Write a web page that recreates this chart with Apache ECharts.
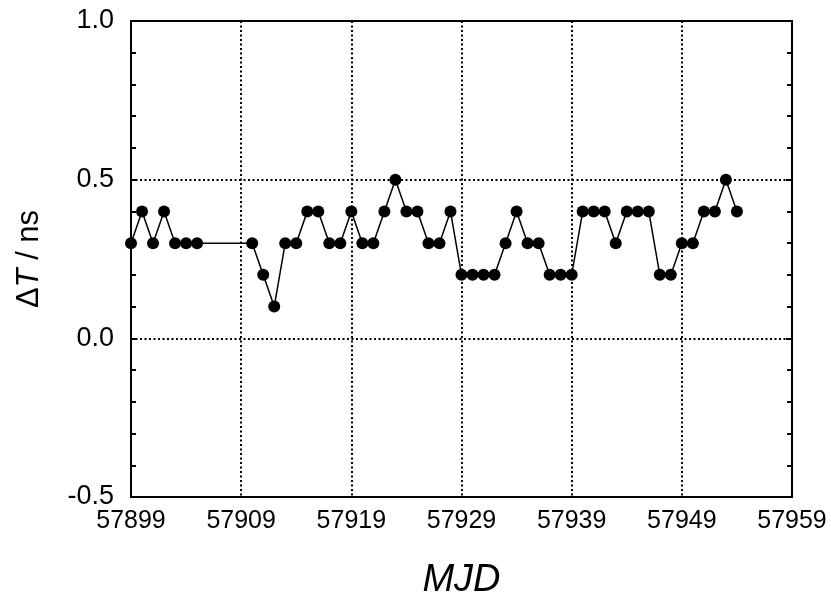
<!DOCTYPE html>
<html>
<head>
<meta charset="utf-8">
<script src="https://cdn.jsdelivr.net/npm/echarts@6/dist/echarts.min.js"></script>
<style>
  html, body { margin: 0; padding: 0; background: #fff; }
  #main { width: 831px; height: 597px; }
</style>
</head>
<body>
<div id="main"></div>
<script>
// MJD days and time offset (ns)
var mjd = [57899, 57900, 57901, 57902, 57903, 57904, 57905,
  57910, 57911, 57912, 57913, 57914, 57915, 57916, 57917, 57918, 57919,
  57920, 57921, 57922, 57923, 57924, 57925, 57926, 57927, 57928, 57929,
  57930, 57931, 57932, 57933, 57934, 57935, 57936, 57937, 57938, 57939,
  57940, 57941, 57942, 57943, 57944, 57945, 57946, 57947, 57948, 57949,
  57950, 57951, 57952, 57953, 57954];
var dt = [0.3, 0.4, 0.3, 0.4, 0.3, 0.3, 0.3,
  0.3, 0.2, 0.1, 0.3, 0.3, 0.4, 0.4, 0.3, 0.3, 0.4,
  0.3, 0.3, 0.4, 0.5, 0.4, 0.4, 0.3, 0.3, 0.4, 0.2,
  0.2, 0.2, 0.2, 0.3, 0.4, 0.3, 0.3, 0.2, 0.2, 0.2,
  0.4, 0.4, 0.4, 0.3, 0.4, 0.4, 0.4, 0.2, 0.2, 0.3,
  0.3, 0.4, 0.4, 0.5, 0.4];
var xTicks = [57899, 57909, 57919, 57929, 57939, 57949, 57959];
var yTicks = [-0.5, 0.0, 0.5, 1.0];

var points = mjd.map(function (d, i) { return [d, dt[i]]; });

var chart = echarts.init(document.getElementById('main'));
var font = 'Liberation Sans, Arial, sans-serif';
var dotted = { color: '#000', width: 2, type: [2, 2.5] };

var option = {
  animation: false,
  backgroundColor: '#fff',
  grid: {
    left: 131, right: 39, top: 21, bottom: 100,
    outerBoundsMode: 'none',
    containLabel: false,
    show: true, borderColor: '#000', borderWidth: 2, backgroundColor: 'transparent'
  },
  xAxis: {
    type: 'value',
    min: xTicks[0], max: xTicks[xTicks.length - 1], interval: 10,
    name: 'MJD',
    nameLocation: 'middle',
    nameGap: 64,
    nameTextStyle: { fontFamily: font, fontSize: 38, fontStyle: 'italic', color: '#000' },
    axisLine: { show: false },
    axisTick: { show: false },
    axisLabel: {
      fontFamily: font, fontSize: 25, color: '#000', margin: 12,
      formatter: function (v) { return String(v); }
    },
    splitLine: { show: true, lineStyle: dotted }
  },
  yAxis: [{
    type: 'value',
    min: yTicks[0], max: yTicks[yTicks.length - 1], interval: 0.5,
    name: '{d|Δ}{i|T}{d| / ns}',
    nameLocation: 'middle',
    nameGap: 86,
    nameTextStyle: {
      rich: {
        d: { fontFamily: font, fontSize: 31, color: '#000' },
        i: { fontFamily: font, fontSize: 31, color: '#000', fontStyle: 'italic' }
      }
    },
    axisLine: { show: false },
    axisTick: { show: true, inside: true, length: 6, lineStyle: { color: '#000', width: 2 } },
    minorTick: { show: true, splitNumber: 5, length: 5, lineStyle: { color: '#000', width: 2 } },
    axisLabel: {
      fontFamily: font, fontSize: 27, color: '#000', margin: 17,
      formatter: function (v) { return v.toFixed(1); }
    },
    splitLine: { show: true, lineStyle: dotted }
  }, {
    type: 'value',
    position: 'right',
    min: yTicks[0], max: yTicks[yTicks.length - 1], interval: 0.5,
    axisLine: { show: false },
    axisTick: { show: true, inside: true, length: 6, lineStyle: { color: '#000', width: 2 } },
    minorTick: { show: true, splitNumber: 5, length: 5, lineStyle: { color: '#000', width: 2 } },
    axisLabel: { show: false },
    splitLine: { show: false }
  }],
  series: [{
    type: 'line',
    data: points,
    symbol: 'circle',
    symbolSize: 12,
    itemStyle: { color: '#000' },
    lineStyle: { color: '#000', width: 1.5 },
    clip: false
  }]
};
chart.setOption(option);
</script>
</body>
</html>
